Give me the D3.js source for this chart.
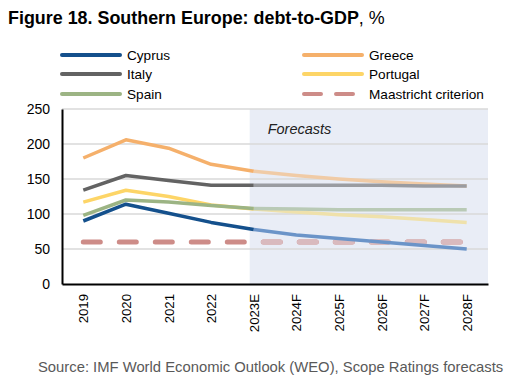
<!DOCTYPE html>
<html>
<head>
<meta charset="utf-8">
<script src="https://cdn.jsdelivr.net/npm/d3@7"></script>
<style>
  body { margin: 0; background: #fff; }
  svg { font-family: "Liberation Sans", Arial, sans-serif; }
</style>
</head>
<body>
<div id="chart"></div>
<script>
// DATA
var years = ["2019", "2020", "2021", "2022", "2023E", "2024F", "2025F", "2026F", "2027F", "2028F"];
var cyprus   = [90, 114, 101, 88, 78, 70, 65, 60, 55, 50];
var greece   = [180, 206, 194, 171, 161, 155, 150, 146, 143, 140];
var italy    = [134, 155, 148, 141, 141, 141, 141, 141, 140, 140];
var portugal = [117, 134, 125, 113, 107, 103, 99, 96, 92, 88];
var spain    = [98, 120, 117, 112, 108, 107, 106, 106, 106, 106];
var maastricht = [60, 60, 60, 60, 60, 60, 60, 60, 60, 60];
var yTicks = [0, 50, 100, 150, 200, 250];
var forecastStart = "2023E";

var series = [
    { name: "Cyprus", values: cyprus, color: "#14508c", light: "#6b94c8" },
    { name: "Greece", values: greece, color: "#f5b06b", light: "#f0cba6" },
    { name: "Italy", values: italy, color: "#636363", light: "#9a9ca1" },
    { name: "Portugal", values: portugal, color: "#fdd567", light: "#efe1ab" },
    { name: "Spain", values: spain, color: "#9cb484", light: "#b9cab6" },
    { name: "Maastricht criterion", values: maastricht, color: "#cd8c88", light: "#d9babe", dashed: true }
];

var width = 524, height = 384;
var margin = { top: 109, left: 62, right: 36, bottom: 100 };
var plotW = width - margin.left - margin.right;
var plotH = height - margin.top - margin.bottom;

var svg = d3.select("#chart").append("svg")
    .attr("width", width)
    .attr("height", height);

// Title
var title = svg.append("text")
    .attr("x", 8)
    .attr("y", 24)
    .attr("font-size", 17.9)
    .attr("fill", "#000");
title.append("tspan").attr("font-weight", "bold").text("Figure 18. Southern Europe: debt-to-GDP");
title.append("tspan").text(", %");

// Legend
var legendPos = [[60, 55], [302, 55], [60, 74], [302, 74], [60, 94], [302, 94]];
var legendOrder = ["Cyprus", "Greece", "Italy", "Portugal", "Spain", "Maastricht criterion"];
legendOrder.forEach(function(name, i) {
    var s = series.find(function(d) { return d.name == name; });
    var p = legendPos[i];
    svg.append("line")
        .attr("x1", p[0] + 2).attr("x2", p[0] + 60)
        .attr("y1", p[1]).attr("y2", p[1])
        .attr("stroke", s.color)
        .attr("stroke-width", 4)
        .attr("stroke-linecap", "round")
        .attr("stroke-dasharray", s.dashed ? "17,15" : null);
    svg.append("text")
        .attr("x", p[0] + 67)
        .attr("y", p[1] + 5)
        .attr("font-size", 13.6)
        .attr("fill", "#000")
        .text(name);
});

var g = svg.append("g")
    .attr("transform", "translate(" + margin.left + "," + margin.top + ")");

var x = d3.scalePoint()
    .domain(years)
    .range([0, plotW])
    .padding(0.5);

var y = d3.scaleLinear()
    .domain([0, 250])
    .range([plotH, 0]);

// Forecast shading
g.append("rect")
    .attr("x", x(forecastStart) - 4)
    .attr("y", 0)
    .attr("width", plotW - x(forecastStart) + 4)
    .attr("height", plotH)
    .attr("fill", "#e9edf6");

g.append("text")
    .attr("x", x(forecastStart) + 14)
    .attr("y", 25)
    .attr("font-size", 14.5)
    .attr("font-style", "italic")
    .attr("fill", "#222")
    .text("Forecasts");

// Gridlines
g.selectAll(".grid")
    .data(yTicks.filter(function(d) { return d > 0; }))
    .enter().append("line")
    .attr("x1", 0).attr("x2", plotW)
    .attr("y1", function(d) { return y(d); })
    .attr("y2", function(d) { return y(d); })
    .attr("stroke", "#d9d9d9")
    .attr("stroke-width", 1.5);

svg.append("defs").append("clipPath")
    .attr("id", "fclip")
    .append("rect")
    .attr("x", x(forecastStart) - 4)
    .attr("y", -10)
    .attr("width", plotW)
    .attr("height", plotH + 20);

// Lines
var line = d3.line()
    .x(function(d) { return x(d.year); })
    .y(function(d) { return y(d.value); });

var fIdx = years.indexOf(forecastStart);
var drawOrder = [series[5], series[1], series[2], series[3], series[4], series[0]];
drawOrder.forEach(function(s) {
    var pts = years.map(function(yr, i) { return { year: yr, value: s.values[i] }; });
    var hist = pts.slice(0, fIdx + 1);
    var fore = pts.slice(fIdx);
    if (s.dashed) {
        g.append("path")
            .datum(pts)
            .attr("fill", "none")
            .attr("stroke", s.color)
            .attr("stroke-width", 5)
            .attr("stroke-linecap", "round")
            .attr("stroke-dasharray", "17,19")
            .attr("d", line);
        // lighter tint over the forecast part
        g.append("path")
            .datum(pts)
            .attr("fill", "none")
            .attr("stroke", s.light)
            .attr("stroke-width", 5)
            .attr("stroke-linecap", "round")
            .attr("stroke-dasharray", "17,19")
            .attr("clip-path", "url(#fclip)")
            .attr("d", line);
        return;
    }
    g.append("path")
        .datum(fore)
        .attr("fill", "none")
        .attr("stroke", s.light)
        .attr("stroke-width", 3.5)
        .attr("stroke-linejoin", "round")
        .attr("d", line);
    g.append("path")
        .datum(hist)
        .attr("fill", "none")
        .attr("stroke", s.color)
        .attr("stroke-width", 3.5)
        .attr("stroke-linejoin", "round")
        .attr("d", line);
});

// Axes
var yAxis = g.append("g")
    .call(d3.axisLeft(y).tickValues(yTicks).tickSize(0).tickPadding(12));
yAxis.select(".domain").attr("stroke", "#000").attr("stroke-width", 2);
yAxis.selectAll("text").attr("font-size", 14).attr("fill", "#000")
    .attr("font-family", "Liberation Sans, Arial, sans-serif");

var xAxis = g.append("g")
    .attr("transform", "translate(0," + plotH + ")")
    .call(d3.axisBottom(x).tickSize(0).tickPadding(0));
xAxis.select(".domain").attr("stroke", "#000").attr("stroke-width", 2);
xAxis.selectAll("text")
    .attr("font-size", 13.2).attr("fill", "#000")
    .attr("font-family", "Liberation Sans, Arial, sans-serif")
    .attr("transform", "rotate(-90)")
    .attr("text-anchor", "end")
    .attr("dx", -10)
    .attr("dy", "0.35em")
    .attr("x", 0)
    .attr("y", 0);

// Source
svg.append("text")
    .attr("x", 38)
    .attr("y", 372)
    .attr("font-size", 14.8)
    .attr("fill", "#595959")
    .text("Source: IMF World Economic Outlook (WEO), Scope Ratings forecasts");
</script>
</body>
</html>
